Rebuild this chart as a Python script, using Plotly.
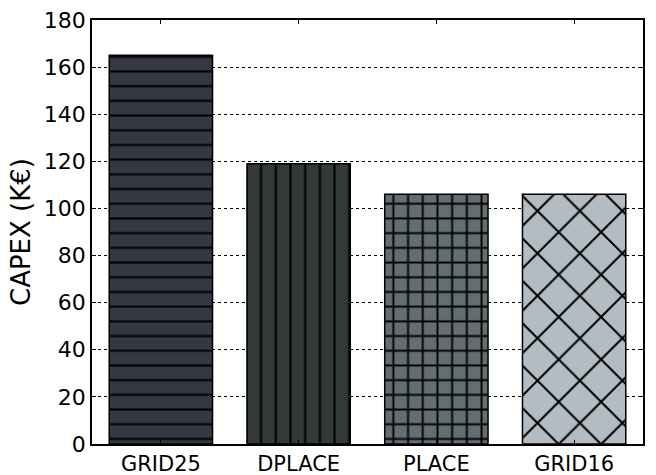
import plotly.graph_objects as go

categories = ['GRID25', 'DPLACE', 'PLACE', 'GRID16']
capex = [165, 119, 106, 106]
bar_colors = ['#343843', '#333936', '#646e70', '#b2bcc2']
hatches = ['-', '|', '+', 'x']
hatch_sizes = [14.7, 14.7, 14.7, 30]
hatch_solidity = [0.14, 0.14, 0.24, 0.13]

FONT = 'DejaVu Sans'

fig = go.Figure()
# one trace per bar so that each hatch keeps its own black foreground
for cat, val, col, shp, sz, sol in zip(categories, capex, bar_colors, hatches, hatch_sizes, hatch_solidity):
    fig.add_trace(go.Bar(
        x=[cat],
        y=[val],
        width=0.75,
        name=cat,
        marker=dict(
            color=col,
            line=dict(color='black', width=1.5),
            pattern=dict(shape=shp, size=sz, solidity=sol,
                         fgcolor='black', bgcolor=col, fgopacity=1, fillmode='replace'),
        ),
        showlegend=False,
    ))

fig.update_xaxes(
    range=[-0.5, 3.5], automargin=False,
    categoryorder='array', categoryarray=categories,
    showline=True, linecolor='black', linewidth=1.5, mirror='ticks',
    ticks='inside', ticklen=4, tickcolor='black', tickwidth=1,
    showgrid=False,
    tickfont=dict(family=FONT, size=21, color='black'),
)
fig.update_yaxes(
    range=[0, 180], dtick=20, automargin=False,
    showline=True, linecolor='black', linewidth=1.5, mirror='ticks',
    ticks='inside', ticklen=4, tickcolor='black', tickwidth=1,
    showgrid=True, gridcolor='black', gridwidth=1, griddash='dot',
    zeroline=False,
    tickfont=dict(family=FONT, size=22, color='black'),
    title=dict(text='CAPEX (K€)', font=dict(family=FONT, size=26, color='black'), standoff=6),
)
fig.update_layout(
    width=656, height=475,
    barmode='overlay',
    margin=dict(l=92, r=13, t=20, b=31),
    plot_bgcolor='white', paper_bgcolor='white',
    font=dict(family=FONT),
)
fig.write_html('out.html', config={'displayModeBar': False},
               post_script="document.body.style.margin='0';")
